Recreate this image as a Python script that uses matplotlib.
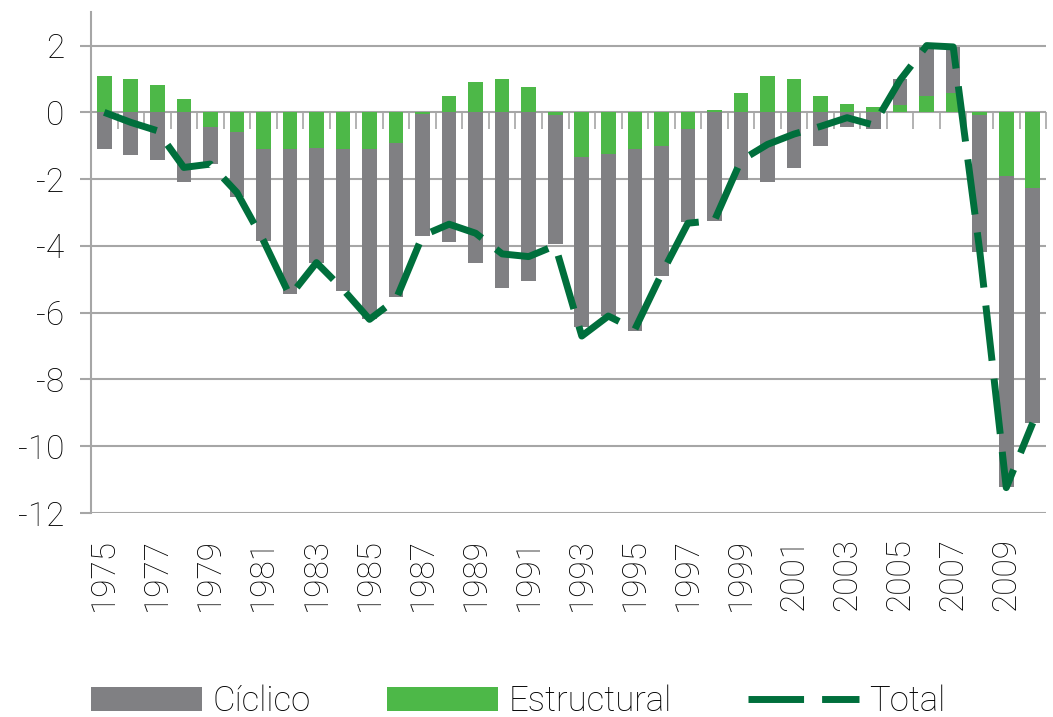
"""
Deficit split into cyclical and structural parts, 1975-2010
"""

import numpy as np
import matplotlib
matplotlib.use('Agg')
import matplotlib.pyplot as plt

years = list(range(1975, 2011))

# Values
estructural = [1.08, 0.99, 0.81, 0.39, -0.44, -0.59, -1.11, -1.11, -1.07, -1.11,
               -1.11, -0.92, -0.05, 0.48, 0.90, 0.99, 0.75, -0.09, -1.34, -1.25,
               -1.11, -1.01, -0.51, 0.06, 0.57, 1.08, 0.99, 0.48, 0.24, 0.15,
               0.21, 0.48, 0.57, -0.09, -1.91, -2.27]
ciclico = [-1.10, -1.28, -1.44, -2.09, -1.10, -1.95, -2.73, -4.33, -3.45, -4.25,
           -5.08, -4.62, -3.64, -3.89, -4.52, -5.27, -5.04, -3.85, -5.10, -4.84,
           -5.43, -3.88, -2.78, -3.26, -2.02, -2.09, -1.67, -1.01, -0.44, -0.50,
           0.78, 1.48, 1.39, -4.10, -9.30, -7.02]
total = [0.00, -0.30, -0.55, -1.65, -1.55, -2.40, -3.84, -5.50, -4.50, -5.30,
         -6.20, -5.60, -3.69, -3.35, -3.62, -4.24, -4.32, -3.99, -6.70, -6.10,
         -6.50, -4.85, -3.32, -3.24, -1.44, -0.96, -0.65, -0.42, -0.16, -0.38,
         0.97, 2.00, 1.96, -4.15, -11.24, -9.30]

yTicks = [2, 0, -2, -4, -6, -8, -10, -12]
labelYears = years[::2]


def main():
    plt.rcParams['font.family'] = ['Roboto', 'DejaVu Sans']
    plt.rcParams['font.weight'] = 'light'
    plt.rcParams['axes.unicode_minus'] = False

    gray = '#808083'
    green = '#4db848'
    darkGreen = '#006f3c'
    gridColor = '#a6a6a6'

    fig = plt.figure(figsize=(10.53, 7.17), dpi=100)
    ax = fig.add_axes([0.0864, 0.2845, 0.907, 0.6985])

    x = np.array(years)
    est = np.array(estructural)
    cic = np.array(ciclico)

    # Excel style stacking: green first, gray goes on top of it when same sign
    cicBottom = np.where(np.sign(cic) == np.sign(est), est, 0)

    estBars = ax.bar(x, est, width=0.55, color=green, zorder=2)
    cicBars = ax.bar(x, cic, width=0.55, bottom=cicBottom, color=gray, zorder=2)
    totLine, = ax.plot(x, total, color=darkGreen, linewidth=5, linestyle=(0, (8, 2.6)),
                       zorder=3)

    # little tick marks on the zero line between the categories
    bounds = np.arange(years[0] - 0.5, years[-1] + 1.0, 1.0)
    ax.plot(bounds, np.zeros(len(bounds)), linestyle='none', marker=3,
            markersize=12, markeredgewidth=1.2, color=gridColor, zorder=1)

    ax.set_xlim(years[0] - 0.5, years[-1] + 0.5)
    ax.set_ylim(-12, 3)
    ax.set_yticks(yTicks)
    ax.set_yticklabels([str(v) for v in yTicks])
    ax.set_xticks(labelYears)
    ax.set_xticklabels([str(y) for y in labelYears], rotation=90)

    ax.yaxis.grid(True, color=gridColor, linewidth=1.5, zorder=0)
    ax.set_axisbelow(True)
    for side in ['top', 'right', 'bottom']:
        ax.spines[side].set_visible(False)
    ax.spines['left'].set_color(gridColor)
    ax.spines['left'].set_linewidth(1.5)

    ax.tick_params(axis='y', length=8, width=1.5, color=gridColor, pad=11, labelsize=24)
    ax.tick_params(axis='x', length=0, pad=18, labelsize=24)

    fig.legend([cicBars, estBars, totLine], ['Cíclico', 'Estructural', 'Total'],
               loc='lower center', bbox_to_anchor=(0.492, -0.045), ncol=3,
               frameon=False, fontsize=25, handlelength=3.2, handleheight=0.7,
               handletextpad=0.3, columnspacing=2.2)

    fig.savefig('out.png', dpi=100)


if __name__ == '__main__':
    main()
